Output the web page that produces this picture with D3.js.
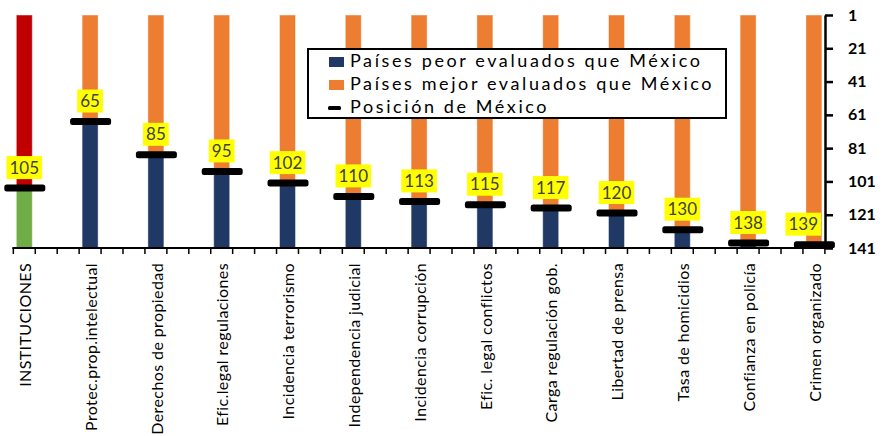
<!DOCTYPE html>
<html><head><meta charset="utf-8">
<script src="https://cdnjs.cloudflare.com/ajax/libs/d3/7.8.5/d3.min.js"></script>
<style>
html,body{margin:0;padding:0;background:#fff;}
svg{display:block;}
</style></head>
<body>
<svg id="chart" width="882" height="436"></svg>
<script>
const categories = ["INSTITUCIONES","Protec.prop.intelectual","Derechos de propiedad","Efic.legal regulaciones","Incidencia terrorismo","Independencia judicial","Incidencia corrupción","Efic. legal conflictos","Carga regulación gob.","Libertad de prensa","Tasa de homicidios","Confianza en policía","Crimen organizado"];
const mexicoRank = [105,65,85,95,102,110,113,115,117,120,130,138,139];
const worseCount = [36,76,56,46,39,31,28,26,24,21,11,3,2];
const betterCount = [104,64,84,94,101,109,112,114,116,119,129,137,138];
const rankTicks = [1,21,41,61,81,101,121,141];
const legendLabels = ["Países peor evaluados que México","Países mejor evaluados que México","Posición de México"];
const totalCountries = 141;

const colors = {worse:"#1F3864", better:"#ED7D31", worseHi:"#70AD47", betterHi:"#C00000"};
const font = "Lato, 'Open Sans', sans-serif";

const svg = d3.select("#chart");
const axisX = 825;
const x = d3.scaleBand().domain(categories).range([-8.6, 846.8]).padding(0);
const y = d3.scaleLinear().domain([1, totalCountries]).range([15, 248]);
const barW = 16;

const rows = categories.map((c,i)=>({cat:c, worse:worseCount[i], better:betterCount[i], rank:mexicoRank[i], i}));
const stack = d3.stack().keys(["worse","better"])(rows);

// bars
stack.forEach(layer=>{
  svg.append("g").selectAll("rect").data(layer).join("rect")
    .attr("x", d=>x(d.data.cat)+x.bandwidth()/2-barW/2)
    .attr("width", barW)
    .attr("y", d=>y(totalCountries - d[1]))
    .attr("height", d=>y(totalCountries - d[0]) - y(totalCountries - d[1]))
    .attr("fill", d=> d.data.i===0 ? (layer.key==="worse"?colors.worseHi:colors.betterHi) : colors[layer.key])
    .attr("stroke","#fff").attr("stroke-opacity",0.45).attr("stroke-width",1);
});

// bottom axis
const step = x.step();
const tickXs = [];
categories.forEach(c=>{
  const cx = x(c)+step/2;
  [cx-step/6, cx+step/6, cx+step/2].forEach(t=>{ if(t<=axisX+1) tickXs.push(t); });
});
const gx = svg.append("g");
gx.append("line").attr("x1",tickXs[0]-1).attr("x2",axisX).attr("y1",248).attr("y2",248).attr("stroke","#000").attr("stroke-width",2);
gx.selectAll("line.t").data(tickXs).join("line").attr("class","t")
  .attr("x1",d=>d).attr("x2",d=>d).attr("y1",248).attr("y2",254).attr("stroke","#000").attr("stroke-width",1.5);
gx.selectAll("text").data(categories).join("text")
  .attr("transform",d=>`translate(${x(d)+step/2+1},263) rotate(-90)`)
  .attr("text-anchor","end").attr("dy","0.35em")
  .style("font-family",font).style("font-size","16px").style("letter-spacing","0.4px").attr("fill","#000")
  .text(d=>d);

// right axis
const gy = svg.append("g").attr("transform",`translate(${axisX},0)`)
  .call(d3.axisRight(y).tickValues(rankTicks).tickSize(8).tickSizeOuter(0).tickPadding(15).tickFormat(d3.format("d")));
gy.select(".domain").attr("stroke","#000").attr("stroke-width",2.5);
gy.selectAll(".tick line").attr("stroke","#000").attr("stroke-width",2.5);
gy.selectAll(".tick text").style("font-family",font).style("font-size","16px").style("font-weight","bold").attr("fill","#000");

// markers
svg.append("g").selectAll("rect").data(rows).join("rect")
  .attr("x", d=>x(d.cat)+step/2-20).attr("width",41)
  .attr("y", d=>y(d.rank)-3.5).attr("height",7).attr("rx",2.5)
  .attr("fill","#000");

// data labels
const gl = svg.append("g");
rows.forEach(d=>{
  const g = gl.append("g");
  const t = g.append("text").text(d.rank)
    .style("font-family",font).style("font-size","17px").attr("fill","#404040")
    .attr("text-anchor","middle");
  const w = t.node().getComputedTextLength()+6;
  const h = 23;
  let cx = x(d.cat)+step/2;
  if (cx + w/2 > axisX-4) cx = axisX-4-w/2;
  const bottom = y(d.rank)-9;
  g.insert("rect","text").attr("x",cx-w/2).attr("y",bottom-h).attr("width",w).attr("height",h).attr("fill","#FFFF00");
  t.attr("x",cx).attr("y",bottom-5.5);
});

// legend
const lg = svg.append("g");
lg.append("rect").attr("x",308).attr("y",49).attr("width",418).attr("height",69)
  .attr("fill","#fff").attr("stroke","#000").attr("stroke-width",2);
const legendY = [67,90,113];
legendLabels.forEach((lab,i)=>{
  if(i<2){
    lg.append("rect").attr("x",329).attr("y",legendY[i]-10).attr("width",15).attr("height",10)
      .attr("fill", i===0?colors.worse:colors.better);
  } else {
    lg.append("rect").attr("x",328).attr("y",legendY[i]-7).attr("width",13).attr("height",4).attr("rx",1.5).attr("fill","#000");
  }
  lg.append("text").attr("x",350).attr("y",legendY[i]).text(lab)
    .style("font-family",font).style("font-size","18px").style("letter-spacing","2.6px").attr("fill","#000");
});
</script>
</body></html>
